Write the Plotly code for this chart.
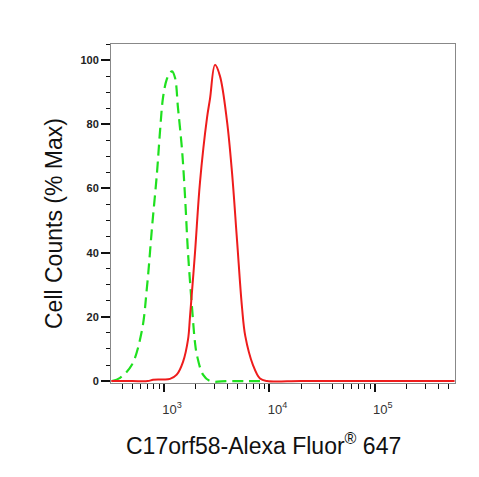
import plotly.graph_objects as go

# fluorescence intensity (log scale) and % of max counts
control_x = [320, 383, 494, 615, 690, 770, 858, 917, 980, 1061, 1140, 1190, 1271, 1357,
             1482, 1582, 1688, 1842, 1967, 2054, 2342, 2731, 4000, 6000, 9000]
control_y = [0, 1, 5, 15.5, 29.5, 48, 65, 78, 88.5, 94, 96, 96.5, 94.5, 85,
             72, 57.5, 40, 23, 12, 8, 2, 0, 0, 0, 0]

sample_x = [316, 500, 700, 787, 900, 1000, 1140, 1320, 1514, 1690, 1763, 1967, 2194, 2557,
            2731, 3042, 3393, 3956, 4413, 4922, 5490, 5900, 6979, 8130, 9470, 20000,
            100000, 570000]
sample_y = [0, 0, 0, 0.4, 0.5, 0.5, 0.7, 2, 6, 13, 20, 40, 62, 82,
            88, 98.5, 95, 81, 65, 44, 23, 14, 5, 0.8, 0, 0,
            0, 0]

x_tickvals = [1000, 10000, 100000]
x_ticktext = ["10<sup>3</sup>", "10<sup>4</sup>", "10<sup>5</sup>"]
y_tickvals = [0, 20, 40, 60, 80, 100]

font = "Liberation Sans, Arial, sans-serif"

fig = go.Figure()
fig.add_trace(go.Scatter(x=control_x, y=control_y, mode="lines",
                         line=dict(color="#1fe01f", width=2.2, dash="11px,6px"),
                         line_shape="spline"))
fig.add_trace(go.Scatter(x=sample_x, y=sample_y, mode="lines",
                         line=dict(color="#ee1c1c", width=2),
                         line_shape="spline"))

# the page body adds 8px around the figure, so the figure is 8px smaller
fig.update_layout(
    width=471, height=469,
    margin=dict(l=103, r=24, t=36, b=94),
    paper_bgcolor="white", plot_bgcolor="white",
    showlegend=False,
    font=dict(family=font, color="#111"),
)

fig.update_xaxes(
    type="log", range=[2.497, 5.76],
    tickvals=x_tickvals, ticktext=x_ticktext,
    ticks="outside", ticklen=8, tickwidth=2, tickcolor="#111",
    tickfont=dict(size=13, color="#333"),
    ticklabelstandoff=6, ticklabelshift=8,
    showline=True, linecolor="#888", linewidth=1, mirror=True,
    showgrid=False, zeroline=False,
    minor=dict(ticks="outside", ticklen=5, tickwidth=1, tickcolor="#111", dtick="D1",
               showgrid=False),
)
fig.update_yaxes(
    range=[-0.6, 105],
    tickvals=y_tickvals,
    ticks="outside", ticklen=9, tickwidth=2, tickcolor="#111",
    tickfont=dict(size=11, color="#222", weight="bold"),
    showline=True, linecolor="#888", linewidth=1, mirror=True,
    showgrid=False, zeroline=False,
    minor=dict(ticks="outside", ticklen=4, tickwidth=1, tickcolor="#111", dtick=5,
               showgrid=False),
)

fig.add_annotation(text="C17orf58-Alexa Fluor<sup>®</sup> 647", xref="paper", yref="paper",
                   x=(263 - 111) / 344, y=-(444 - 383) / 339, showarrow=False,
                   xanchor="center", yanchor="middle", font=dict(size=23, color="#111"))
fig.add_annotation(text="Cell Counts (% Max)", xref="paper", yref="paper",
                   x=-(111 - 54) / 344, y=(383 - 224) / 339, showarrow=False, textangle=-90,
                   xanchor="center", yanchor="middle", font=dict(size=23, color="#111"))

fig.write_html("out.html")
